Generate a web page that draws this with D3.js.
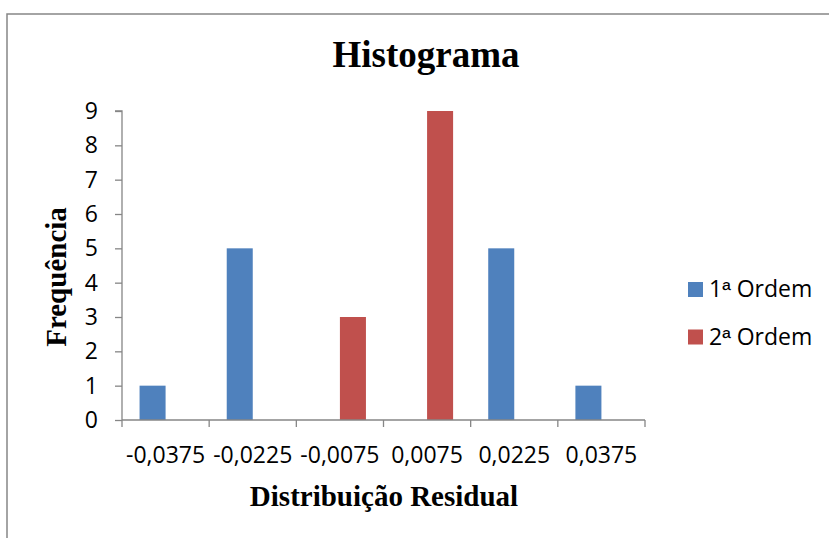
<!DOCTYPE html>
<html>
<head>
<meta charset="utf-8">
<script src="https://cdn.jsdelivr.net/npm/d3@7"></script>
<style>
  html, body { margin: 0; padding: 0; background: #fff; }
  svg { display: block; }
</style>
</head>
<body>
<svg id="chart" width="829" height="538"></svg>
<script>
const categories = ["-0,0375", "-0,0225", "-0,0075", "0,0075", "0,0225", "0,0375"];
const seriesNames = ["1ª Ordem", "2ª Ordem"];
const ordem1 = [1, 5, 0, 0, 5, 1];
const ordem2 = [0, 0, 3, 9, 0, 0];
const yTicks = [0, 1, 2, 3, 4, 5, 6, 7, 8, 9];
const colors = ["#4F81BD", "#C0504D"];

const svg = d3.select("#chart");
const W = 829, H = 538;
svg.append("rect").attr("width", W).attr("height", H).attr("fill", "#fff");

// outer chart border (cut off at right and bottom like the reference)
svg.append("rect")
  .attr("x", 7).attr("y", 14).attr("width", 840).attr("height", 540)
  .attr("fill", "none").attr("stroke", "#868686").attr("stroke-width", 1.5);

const plot = { left: 122, right: 645, top: 111, bottom: 420 };

const x0 = d3.scaleBand().domain(categories).range([plot.left, plot.right]).paddingInner(0).paddingOuter(0);
const bw = x0.bandwidth();
const gapRatio = 1.35;
const barW = bw / (2 + gapRatio);
const x1 = d3.scaleBand().domain(seriesNames).range([gapRatio * barW / 2, bw - gapRatio * barW / 2]).padding(0);
const y = d3.scaleLinear().domain([0, 9]).range([plot.bottom, plot.top]);

const seriesData = [ordem1, ordem2];

// bars
seriesNames.forEach((name, si) => {
  svg.append("g").selectAll("rect")
    .data(categories.map((c, i) => ({ c, v: seriesData[si][i] })).filter(d => d.v > 0))
    .join("rect")
    .attr("x", d => x0(d.c) + x1(name))
    .attr("y", d => y(d.v))
    .attr("width", x1.bandwidth())
    .attr("height", d => y(0) - y(d.v))
    .attr("fill", colors[si]);
});

const tickFont = "'Open Sans', 'Noto Sans', sans-serif";
const tickSize = 23;

// y axis
const yAxis = svg.append("g")
  .attr("transform", `translate(${plot.left},0)`)
  .call(d3.axisLeft(y).tickValues(yTicks).tickSize(7).tickPadding(17).tickFormat(d3.format("d")));
yAxis.selectAll("path, line").attr("stroke", "#868686").attr("stroke-width", 1.3);
yAxis.select(".domain").attr("d", `M-7,${plot.top}H0V${plot.bottom}`);
yAxis.selectAll("text").attr("font-family", tickFont).attr("font-size", tickSize).attr("fill", "#000");

// x axis: ticks at category boundaries
const xAxisG = svg.append("g").attr("transform", `translate(0,${plot.bottom})`);
xAxisG.append("line").attr("x1", plot.left).attr("x2", plot.right).attr("y1", 0).attr("y2", 0)
  .attr("stroke", "#868686").attr("stroke-width", 1.3);
const boundaries = categories.map(c => x0(c)).concat([plot.right]);
xAxisG.selectAll("line.tick").data(boundaries).join("line").attr("class", "tick")
  .attr("x1", d => d).attr("x2", d => d).attr("y1", 0).attr("y2", 7)
  .attr("stroke", "#868686").attr("stroke-width", 1.3);
xAxisG.selectAll("text").data(categories).join("text")
  .attr("x", d => x0(d) + bw / 2)
  .attr("y", 43)
  .attr("text-anchor", "middle")
  .attr("font-family", tickFont).attr("font-size", tickSize).attr("fill", "#000")
  .text(d => d);

// titles
const serif = "'Liberation Serif', 'Times New Roman', serif";
svg.append("text").attr("x", 426).attr("y", 67).attr("text-anchor", "middle")
  .attr("font-family", serif).attr("font-weight", "bold").attr("font-size", 37).text("Histograma");
svg.append("text").attr("x", 384).attr("y", 506).attr("text-anchor", "middle")
  .attr("font-family", serif).attr("font-weight", "bold").attr("font-size", 29).text("Distribuição Residual");
svg.append("text").attr("transform", "translate(66,277) rotate(-90)").attr("text-anchor", "middle")
  .attr("font-family", serif).attr("font-weight", "bold").attr("font-size", 29).text("Frequência");

// legend
const legend = svg.append("g");
seriesNames.forEach((name, i) => {
  const ly = 282 + i * 47.5;
  legend.append("rect").attr("x", 688).attr("y", ly).attr("width", 15).attr("height", 15).attr("fill", colors[i]);
  const t = legend.append("text").attr("x", 709).attr("y", ly + 15)
    .attr("font-family", tickFont).attr("font-size", tickSize).attr("fill", "#000");
  const parts = name.split("ª");
  t.append("tspan").text(parts[0]);
  t.append("tspan").attr("font-family", "'Liberation Sans', Arial, sans-serif").text("ª");
  t.append("tspan").text(parts[1]);
});
</script>
</body>
</html>
